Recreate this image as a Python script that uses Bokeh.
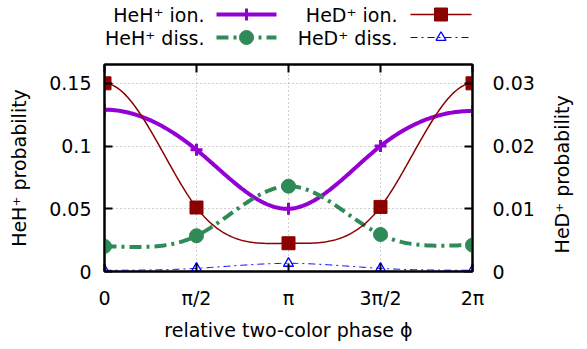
import numpy as np
from bokeh.plotting import figure
from bokeh.layouts import column
from bokeh.models import Range1d, LinearAxis, FixedTicker
from bokeh.core.properties import value
from bokeh.embed import file_html
from bokeh.resources import INLINE

# ---------------- data ----------------
phase_in_pi = [0.0, 0.5, 1.0, 1.5, 2.0]          # relative phase / pi
tick_labels = ["0", "π/2", "π", "3π/2", "2π"]
heh_ion = [0.129, 0.097, 0.050, 0.100, 0.128]     # left axis
heh_diss = [0.020, 0.0285, 0.068, 0.0295, 0.021]  # left axis
hed_ion = [0.030, 0.0102, 0.0045, 0.0103, 0.030]  # right axis
hed_diss = [0.0002, 0.0005, 0.0013, 0.0005, 0.0002]  # right axis
left_ticks = [0, 0.05, 0.1, 0.15]
left_labels = ["0", "0.05", "0.1", "0.15"]
right_ticks = [0, 0.01, 0.02, 0.03]
right_labels = ["0", "0.01", "0.02", "0.03"]
series_names = ["HeH⁺ ion.", "HeH⁺ diss.", "HeD⁺ ion.", "HeD⁺ diss."]

FS = "19px"
FONT = "DejaVu Sans"
PURPLE, GREEN, RED, BLUE = "#9400D3", "#2E8B57", "#8B0000", "#0000FF"
W, H = 587, 349
BL, BR = 104, 115          # left / right borders (shared by both stacked figures)
LEG_H = 50                 # height of the key strip above the plot

phase = [v * np.pi for v in phase_in_pi]


def smooth_line(x, y, n=300):
    """Cubic spline (zero end slopes) used only to draw a smooth line through the points."""
    x = np.asarray(x, float)
    y = np.asarray(y, float)
    N = len(x)
    h = np.diff(x)
    A = np.zeros((N, N))
    b = np.zeros(N)
    A[0, 0], A[0, 1] = 2 * h[0], h[0]
    b[0] = 6 * ((y[1] - y[0]) / h[0])
    A[-1, -2], A[-1, -1] = h[-1], 2 * h[-1]
    b[-1] = 6 * (-(y[-1] - y[-2]) / h[-1])
    for i in range(1, N - 1):
        A[i, i - 1] = h[i - 1]
        A[i, i] = 2 * (h[i - 1] + h[i])
        A[i, i + 1] = h[i]
        b[i] = 6 * ((y[i + 1] - y[i]) / h[i] - (y[i] - y[i - 1]) / h[i - 1])
    M = np.linalg.solve(A, b)
    xs = np.linspace(x[0], x[-1], n)
    idx = np.clip(np.searchsorted(x, xs) - 1, 0, N - 2)
    x0, x1 = x[idx], x[idx + 1]
    hh = x1 - x0
    ys = (M[idx] * (x1 - xs) ** 3 / (6 * hh) + M[idx + 1] * (xs - x0) ** 3 / (6 * hh)
          + (y[idx] / hh - M[idx] * hh / 6) * (x1 - xs)
          + (y[idx + 1] / hh - M[idx + 1] * hh / 6) * (xs - x0))
    return xs, ys


# ---------------- key strip (gnuplot style: text, then sample) ----------------
leg = figure(width=W, height=LEG_H, x_range=Range1d(BL, W - BR), y_range=Range1d(LEG_H, 0),
             output_backend="svg", toolbar_location=None,
             min_border_left=BL, min_border_right=BR, min_border_top=0, min_border_bottom=0,
             x_axis_location=None, y_axis_location=None)
leg.grid.visible = False
leg.outline_line_color = None

row_y = [14, 37]
txt_right = [204, 397]
smp = [(216, 276), (410, 471)]
leg.text(x=[txt_right[0], txt_right[0], txt_right[1], txt_right[1]],
         y=[row_y[0], row_y[1], row_y[0], row_y[1]],
         text=series_names, text_align="right", text_baseline="middle",
         text_font=value(FONT), text_font_size=FS, text_color="#000000")
key_styles = [
    (0, 0, PURPLE, 4, "solid", "cross", 12, dict(line_color=PURPLE, line_width=3)),
    (0, 1, GREEN, 4, "12 5 3 5", "circle", 14, dict(fill_color=GREEN, line_color=GREEN)),
    (1, 0, RED, 1.5, "solid", "square", 13, dict(fill_color=RED, line_color=RED)),
    (1, 1, BLUE, 1, "7 4 2 4", "triangle", 10, dict(fill_color=None, line_color=BLUE, line_width=1.3)),
]
for col, row, colr, lw, dash, mk, sz, kw in key_styles:
    a, b = smp[col]
    leg.segment(x0=[a], y0=[row_y[row]], x1=[b], y1=[row_y[row]],
                line_color=colr, line_width=lw, line_dash=dash)
    leg.scatter(x=[(a + b) / 2], y=[row_y[row]], marker=mk, size=sz, **kw)

# ---------------- main plot ----------------
p = figure(width=W, height=H - LEG_H, x_range=Range1d(0, 2 * np.pi), y_range=Range1d(0, 0.165),
           output_backend="svg", toolbar_location=None,
           min_border_left=BL, min_border_right=BR, min_border_top=64 - LEG_H, min_border_bottom=78)
p.extra_y_ranges = {"hed": Range1d(0, 0.033)}
p.outline_line_color = "#000000"
p.outline_line_width = 2
p.background_fill_color = "white"
p.border_fill_color = "white"

p.xgrid.ticker = FixedTicker(ticks=phase)
p.ygrid.ticker = FixedTicker(ticks=left_ticks)
for g in (p.xgrid, p.ygrid):
    g.grid_line_color = "#a0a0a0"
    g.grid_line_dash = "1 3"
    g.grid_line_width = 1


def style_axis(ax, standoff):
    ax.major_tick_in = 8
    ax.major_tick_out = 0
    ax.minor_tick_in = 0
    ax.minor_tick_out = 0
    ax.major_tick_line_width = 2
    ax.axis_line_width = 2
    ax.axis_line_color = "#000000"
    ax.major_tick_line_color = "#000000"
    ax.major_label_text_font = FONT
    ax.major_label_text_font_size = FS
    ax.major_label_text_color = "#000000"
    ax.major_label_standoff = standoff
    ax.axis_label_text_font = FONT
    ax.axis_label_text_font_size = FS
    ax.axis_label_text_font_style = "normal"
    ax.axis_label_text_color = "#000000"


xa = p.xaxis[0]
xa.ticker = FixedTicker(ticks=phase)
xa.major_label_overrides = {t: l for t, l in zip(phase, tick_labels)}
xa.axis_label = "relative two-color phase ϕ"
style_axis(xa, 15)
xa.axis_label_standoff = 7

ya = p.yaxis[0]
ya.ticker = FixedTicker(ticks=left_ticks)
ya.major_label_overrides = {t: l for t, l in zip(left_ticks, left_labels)}
ya.axis_label = "HeH⁺ probability"
style_axis(ya, 13)
ya.axis_label_standoff = 16

ra = LinearAxis(y_range_name="hed", ticker=FixedTicker(ticks=right_ticks),
                major_label_overrides={t: l for t, l in zip(right_ticks, right_labels)},
                axis_label="\u00a0\u00a0\u00a0HeD⁺ probability")
style_axis(ra, 20)
ra.axis_label_standoff = 24
ra.axis_label_orientation = np.pi / 2
try:
    ra.axis_label_align = "start"
except Exception:
    pass
p.add_layout(ra, "right")

ta = LinearAxis(ticker=FixedTicker(ticks=phase),
                major_label_overrides={t: "" for t in phase})
style_axis(ta, 0)
ta.major_label_text_font_size = "1px"
p.add_layout(ta, "above")

# series
xs, ys = smooth_line(phase, heh_ion)
p.line(xs, ys, line_color=PURPLE, line_width=4)
p.scatter(phase, heh_ion, marker="cross", size=12, line_color=PURPLE, line_width=3)

xs, ys = smooth_line(phase, heh_diss)
p.line(xs, ys, line_color=GREEN, line_width=4, line_dash="12 5 3 5")
p.scatter(phase, heh_diss, marker="circle", size=14, fill_color=GREEN, line_color=GREEN)

xs, ys = smooth_line(phase, hed_ion)
p.line(xs, ys, line_color=RED, line_width=1.5, y_range_name="hed")
p.scatter(phase, hed_ion, marker="square", size=13, fill_color=RED, line_color=RED,
          y_range_name="hed")

xs, ys = smooth_line(phase, hed_diss)
p.line(xs, ys, line_color=BLUE, line_width=1, line_dash="7 4 2 4", y_range_name="hed")
p.scatter(phase, hed_diss, marker="triangle", size=10, fill_color=None, line_color=BLUE,
          line_width=1.3, y_range_name="hed")

layout = column(leg, p, spacing=0)
open("out.html", "w").write(file_html(layout, INLINE))
